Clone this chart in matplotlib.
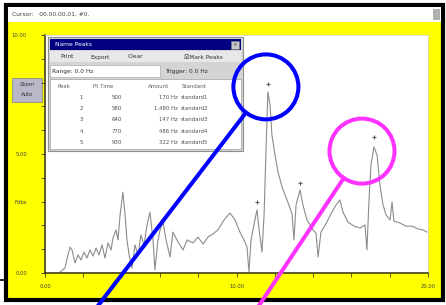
import numpy as np
import matplotlib.pyplot as plt
from matplotlib.patches import Rectangle, Circle

# spectrum trace (x: 0-20, y: 0-10)
freq = [0.78, 1.04, 1.20, 1.31, 1.41, 1.57, 1.72, 1.88, 2.04, 2.19, 2.35, 2.51,
        2.66, 2.82, 2.98, 3.13, 3.29, 3.45, 3.55, 3.71, 3.81, 3.92, 4.07, 4.18,
        4.28, 4.39, 4.54, 4.70, 4.86, 5.01, 5.17, 5.33, 5.48, 5.64, 5.74, 5.90,
        6.01, 6.16, 6.32, 6.53, 6.68, 6.95, 7.21, 7.42, 7.73, 7.99, 8.25, 8.51,
        8.77, 9.03, 9.35, 9.66, 9.92, 10.18, 10.39, 10.55, 10.65, 10.76, 10.91,
        11.07, 11.17, 11.33, 11.44, 11.54, 11.64, 11.75, 11.85, 12.01, 12.17,
        12.38, 12.64, 12.90, 13.00, 13.11, 13.32, 13.47, 13.68, 13.99, 14.15,
        14.26, 14.41, 14.67, 14.93, 15.20, 15.40, 15.56, 15.82, 16.14, 16.45,
        16.71, 16.81, 16.92, 17.02, 17.18, 17.34, 17.49, 17.65, 17.81, 18.02,
        18.12, 18.22, 18.54, 18.85, 19.16, 19.48, 19.74, 19.95]
level = [0.04, 0.21, 0.76, 1.09, 0.97, 0.42, 0.76, 0.55, 0.88, 0.63, 0.97, 0.71,
         1.05, 0.76, 1.18, 0.63, 1.26, 0.97, 1.47, 1.81, 1.39, 2.44, 3.40, 2.44,
         1.39, 0.76, 0.21, 1.18, 0.76, 1.60, 1.18, 2.02, 2.56, 1.39, 0.13, 1.39,
         1.81, 2.14, 1.39, 0.67, 1.72, 1.30, 0.97, 1.39, 1.26, 1.51, 1.22, 1.51,
         1.64, 1.81, 2.23, 2.52, 2.23, 1.72, 1.39, 1.09, 0.04, 1.39, 2.02,
         2.65, 1.89, 0.88, 2.44, 5.17, 7.61, 7.06, 5.80, 4.96, 4.24,
         3.61, 3.07, 2.48, 1.39, 2.86, 3.49, 2.86, 2.23, 1.81, 1.68,
         0.67, 1.72, 2.06, 2.48, 2.86, 3.07, 2.56, 2.14, 1.97, 1.89,
         2.02, 0.97, 3.07, 4.54, 5.29, 4.96, 3.70, 2.86, 2.44, 2.23,
         2.98, 2.18, 2.10, 1.97, 1.97, 1.85, 1.81, 1.72]

peak_freq = [11.07, 11.64, 13.32, 17.18]
peak_mark = [3.0, 7.95, 3.8, 5.7]

ytick_pos = list(range(0, 11))
ytick_lbl = ['0.00', '', '', 'Fdbs', '', '5.00', '', '', '', '', '10.00']
xtick_pos = list(range(0, 21, 2))
xtick_lbl = ['0.00', '', '', '', '', '10.00', '', '', '', '', '20.00']

peak_no = ['1', '2', '3', '4', '5']
pt_time = ['500', '580', '640', '770', '930']
amount = ['170 Hz', '1,480 Hz', '147 Hz', '486 Hz', '322 Hz']
standard = ['standard1', 'standard2', 'standard3', 'standard4', 'standard5']

W, H = 446, 305
fig = plt.figure(figsize=(W / 100, H / 100), dpi=100)

# background window (pixel coordinates, y down)
bg = fig.add_axes([0, 0, 1, 1], zorder=0)
bg.set_xlim(0, W)
bg.set_ylim(H, 0)
bg.axis('off')


def box(a, x0, y0, x1, y1, fc, ec='none', lw=0):
    a.add_patch(Rectangle((x0, y0), x1 - x0, y1 - y0, facecolor=fc,
                          edgecolor=ec, linewidth=lw))


box(bg, 0, 0, W, H, 'white')
box(bg, 6, 5, 443, 300, '#ffff00', ec='black', lw=3)
box(bg, 8, 7, 441, 22, 'white')
box(bg, 433, 9, 440, 20, '#b0b0b0')
bg.plot([0, 7], [280, 280], color='black', lw=1.2)
bg.text(12, 14.5, 'Cursor:   00.00.00.01, #0.', fontsize=4.3, color='#404040',
        va='center')
box(bg, 12, 78, 42, 102, '#b8b8c8', ec='#808080', lw=0.5)
bg.text(27, 84, 'Zoom', fontsize=3.8, color='#303030', ha='center', va='center')
bg.text(27, 95, 'Auto', fontsize=3.8, color='#303030', ha='center', va='center')

# spectrum plot
ax = fig.add_axes([45 / W, 1 - 273 / H, 383 / W, 238 / H], zorder=1)
ax.set_facecolor('white')
ax.plot(freq, level, color='#8c8c8c', lw=0.8)
ax.plot(peak_freq, peak_mark, '+', color='#606060', ms=3, mew=0.8)
ax.set_xlim(0, 20)
ax.set_ylim(0, 10)
ax.set_xticks(xtick_pos)
ax.set_xticklabels(xtick_lbl)
ax.set_yticks(ytick_pos)
ax.set_yticklabels(ytick_lbl)
ax.tick_params(axis='both', labelsize=3.8, labelcolor='#404040', color='#404020',
               length=3, width=0.6)
ax.tick_params(axis='y', pad=10)
ax.tick_params(axis='x', pad=5)
for s in ['left', 'bottom']:
    ax.spines[s].set_color('#303010')
    ax.spines[s].set_linewidth(1.1)
for s in ['top', 'right']:
    ax.spines[s].set_color('#d8d8c0')
    ax.spines[s].set_linewidth(0.6)

# overlay: peaks window and callout circles
top = fig.add_axes([0, 0, 1, 1], zorder=2)
top.set_xlim(0, W)
top.set_ylim(H, 0)
top.axis('off')
top.patch.set_alpha(0)

box(top, 48, 37, 243, 151, '#d4d4d4', ec='#909090', lw=0.8)
box(top, 50, 39, 241, 50, '#000080')
top.text(55, 44.8, 'Name Peaks', fontsize=4.3, color='white', va='center')
box(top, 231, 40.5, 239, 48.5, '#c8c8c8', ec='#808080', lw=0.4)
top.text(235, 44.5, '×', fontsize=4, color='#404040', ha='center', va='center')
box(top, 50, 51, 241, 62, '#e8e8e8')
for lbl, x in [('Print', 60), ('Export', 90), ('Clear', 128), ('☒Mark Peaks', 184)]:
    top.text(x, 57, lbl, fontsize=4.2, color='#303030', va='center')
box(top, 50, 65, 160, 77, 'white', ec='#a0a0a0', lw=0.4)
top.text(52, 71, 'Range: 0.0 Hz', fontsize=4.2, color='#303030', va='center')
top.text(165, 71, 'Trigger: 0.0 Hz', fontsize=4.2, color='#303030', va='center')
box(top, 50, 79, 241, 149, 'white', ec='#a0a0a0', lw=0.5)

hdr_y = 86
top.text(58, hdr_y, 'Peak', fontsize=3.9, color='#606060', va='center')
top.text(93, hdr_y, 'Pt Time', fontsize=3.9, color='#606060', va='center')
top.text(148, hdr_y, 'Amount', fontsize=3.9, color='#606060', va='center')
top.text(182, hdr_y, 'Standard', fontsize=3.9, color='#606060', va='center')
for i in range(len(peak_no)):
    y = 97.5 + i * 11.2
    top.text(83, y, peak_no[i], fontsize=3.9, color='#505050', ha='right', va='center')
    top.text(122, y, pt_time[i], fontsize=3.9, color='#505050', ha='right', va='center')
    top.text(178, y, amount[i], fontsize=3.9, color='#505050', ha='right', va='center')
    top.text(181, y, standard[i], fontsize=3.9, color='#505050', va='center')

fig.canvas.draw()


def to_px(x, y):
    dx, dy = ax.transData.transform((x, y))
    return dx, H - dy


callouts = [(peak_freq[1], 7.61, -2, -5, 97, '#0000ff'),
            (peak_freq[3], 5.29, -12, 4, 258, '#ff33ff')]
for fx, fy, ox, oy, end_x, col in callouts:
    px, py = to_px(fx, fy)
    cx, cy = px + ox, py + oy
    r = 32.5
    top.add_patch(Circle((cx, cy), r, fill=False, edgecolor=col, lw=2.9))
    d = np.array([end_x - cx, H - cy])
    d = d / np.hypot(*d)
    top.plot([cx + r * d[0], end_x], [cy + r * d[1], H + 2], color=col, lw=2.9,
             solid_capstyle='butt', clip_on=False)

fig.savefig('out.png', dpi=100)
